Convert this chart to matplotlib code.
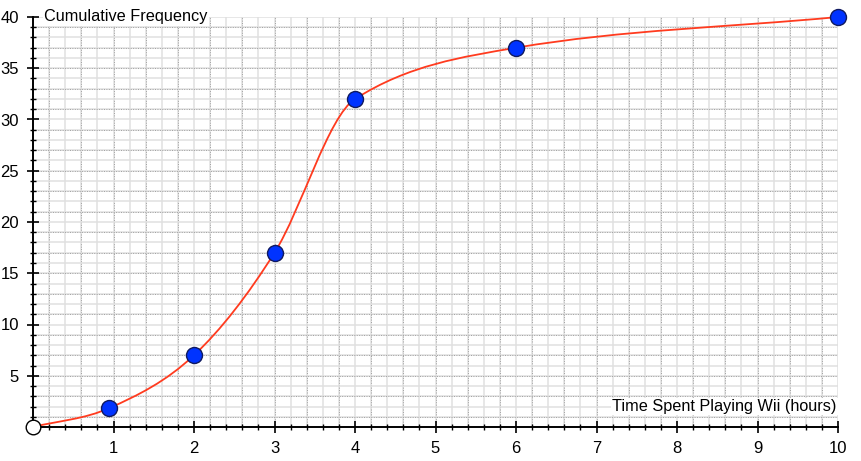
import matplotlib
matplotlib.use("Agg")
import matplotlib.pyplot as plt
import numpy as np
from matplotlib.path import Path
from matplotlib.patches import PathPatch
from matplotlib.ticker import MultipleLocator

plt.rcParams['font.family'] = ['Liberation Sans', 'DejaVu Sans']

# cumulative frequency data
hours = [0, 0.95, 2, 3, 4, 6, 10]
cum_freq = [0, 1.85, 7, 17, 32, 37, 40]
x_ticks = [1, 2, 3, 4, 5, 6, 7, 8, 9, 10]
y_ticks = [5, 10, 15, 20, 25, 30, 35, 40]

fig = plt.figure(figsize=(8.62, 4.61), dpi=100)
ax = fig.add_axes([33 / 862, 1 - 427 / 461, 805 / 862, 410 / 461])
ax.set_xlim(0, 10)
ax.set_ylim(0, 40)

# grid: light solid lines, every other one with a dotted darker overlay
for k, gx in enumerate(np.arange(0.2, 10.01, 0.2)):
    ax.axvline(gx, color='#e0e0e0', lw=1.1, zorder=0)
    if k % 2 == 0:
        ax.axvline(gx, color='#a0a0a0', lw=0.7, ls=(0, (1, 1.5)), zorder=0)
for gy in range(1, 41):
    ax.axhline(gy, color='#e0e0e0', lw=1.1, zorder=0)
    if gy % 2 == 1:
        ax.axhline(gy, color='#a0a0a0', lw=0.7, ls=(0, (1, 1.5)), zorder=0)

# smooth curve through the points (Hermite segments as cubic Beziers)
x = np.array(hours, dtype=float)
y = np.array(cum_freq, dtype=float)
m = np.zeros_like(y)
m[0] = (y[1] - y[0]) / (x[1] - x[0])
m[-1] = 0.75
for i in range(1, len(x) - 1):
    m[i] = (y[i + 1] - y[i - 1]) / (x[i + 1] - x[i - 1])
m[4] = 5.0  # sharper bend at 4 hours as in the original
verts = [(x[0], y[0])]
codes = [Path.MOVETO]
for i in range(len(x) - 1):
    h = x[i + 1] - x[i]
    verts += [(x[i] + h / 3, y[i] + m[i] * h / 3),
              (x[i + 1] - h / 3, y[i + 1] - m[i + 1] * h / 3),
              (x[i + 1], y[i + 1])]
    codes += [Path.CURVE4] * 3
ax.add_patch(PathPatch(Path(verts, codes), facecolor='none',
                       edgecolor='#ff3b1f', lw=1.3, zorder=3, clip_on=False))

ax.plot(hours[1:], cum_freq[1:], 'o', ms=11.5, mfc='#0033ff', mec='#101a60',
        mew=1.0, zorder=4, clip_on=False)
ax.plot(hours[0], cum_freq[0], 'o', ms=10.5, mfc='white', mec='black',
        mew=1.0, zorder=4, clip_on=False)

for s in ['top', 'right']:
    ax.spines[s].set_visible(False)
for s in ['left', 'bottom']:
    ax.spines[s].set_linewidth(1.4)
    ax.spines[s].set_zorder(2)

ax.set_xticks(x_ticks)
ax.set_yticks(y_ticks)
ax.xaxis.set_minor_locator(MultipleLocator(0.2))
ax.yaxis.set_minor_locator(MultipleLocator(1))
ax.tick_params(which='major', direction='inout', length=8, width=1.2,
               labelsize=12, pad=6, colors='black')
ax.tick_params(which='minor', direction='inout', length=5, width=1.0)

ax.text(0.14, 40, 'Cumulative Frequency', fontsize=11.7, ha='left',
        va='center', bbox=dict(facecolor='white', edgecolor='none', pad=1),
        zorder=5)
ax.text(9.98, 2.0, 'Time Spent Playing Wii (hours)', fontsize=11.7,
        ha='right', va='center',
        bbox=dict(facecolor='white', edgecolor='none', pad=1), zorder=5)

fig.savefig('out.png', dpi=100)
